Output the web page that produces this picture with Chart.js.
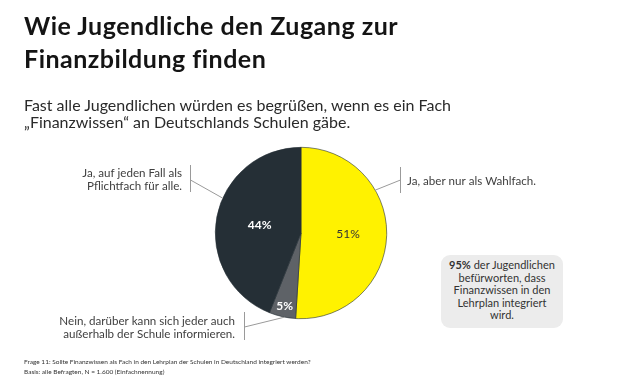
<!DOCTYPE html>
<html lang="de">
<head>
<meta charset="utf-8">
<script src="https://cdn.jsdelivr.net/npm/chart.js@4/dist/chart.umd.min.js"></script>
<style>
  html, body { margin: 0; padding: 0; background: #fff; }
  body { width: 621px; height: 383px; position: relative; overflow: hidden; font-family: Lato, "Open Sans", sans-serif; color: #1e1e1e; }
  #chartWrap { position: absolute; left: 0; top: 0; width: 621px; height: 383px; }
  h1 { position: absolute; left: 24px; top: 9px; margin: 0; font-size: 25px; line-height: 33px; font-weight: 700; letter-spacing: 0.5px; color: #141414; }
  .sub { position: absolute; left: 24px; top: 96px; margin: 0; font-size: 16px; line-height: 17px; color: #2a2a2a; }
  .box { position: absolute; left: 441px; top: 255px; width: 122px; height: 73px; background: #ececec; border-radius: 9px;
         font-size: 11px; line-height: 12.6px; text-align: center; color: #333; padding-top: 4px; box-sizing: border-box; }
  .foot { position: absolute; left: 24px; top: 357px; font-size: 6.5px; line-height: 10px; color: #333; }
</style>
</head>
<body>
<div id="chartWrap"><canvas id="pie"></canvas></div>
<h1>Wie Jugendliche den Zugang zur<br>Finanzbildung finden</h1>
<p class="sub">Fast alle Jugendlichen würden es begrüßen, wenn es ein Fach<br>„Finanzwissen“ an Deutschlands Schulen gäbe.</p>
<div class="box"><b>95%</b> der Jugendlichen<br>befürworten, dass<br>Finanzwissen in den<br>Lehrplan integriert<br>wird.</div>
<div class="foot">Frage 11: Sollte Finanzwissen als Fach in den Lehrplan der Schulen in Deutschland integriert werden?<br>Basis: alle Befragten, N = 1.600 (Einfachnennung)</div>
<script>
// Daten
const categories = [
  "Ja, aber nur als Wahlfach.",
  "Nein, darüber kann sich jeder auch außerhalb der Schule informieren.",
  "Ja, auf jeden Fall als Pflichtfach für alle."
];
const values = [51, 5, 44];
const valueLabels = ["51%", "5%", "44%"];
const calloutLines = [
  ["Ja, aber nur als Wahlfach."],
  ["Nein, darüber kann sich jeder auch", "außerhalb der Schule informieren."],
  ["Ja, auf jeden Fall als", "Pflichtfach für alle."]
];

const colors = ["#fff200", "#5e6267", "#252f36"];

// Beschriftungen + Linien direkt auf dem Canvas
const labelPlugin = {
  id: "pieLabels",
  afterDatasetsDraw(chart) {
    const ctx = chart.ctx;
    const arcs = chart.getDatasetMeta(0).data;
    const cx = arcs[0].x, cy = arcs[0].y, r = arcs[0].outerRadius;
    const pt = (deg, rr) => {
      const a = deg * Math.PI / 180;
      return [cx + rr * Math.sin(a), cy - rr * Math.cos(a)];
    };

    // Prozentwerte in den Segmenten
    const inner = [
      { f: 0.55, color: "#333", weight: "400" },
      { f: 0.87, color: "#fff", weight: "700" },
      { f: 0.49, color: "#fff", weight: "700" }
    ];
    ctx.save();
    ctx.textAlign = "center";
    ctx.textBaseline = "middle";
    arcs.forEach((arc, i) => {
      const mid = (arc.startAngle + arc.endAngle) / 2;
      const rr = r * inner[i].f;
      ctx.fillStyle = inner[i].color;
      ctx.font = inner[i].weight + " 12px Lato, sans-serif";
      ctx.fillText(valueLabels[i], cx + rr * Math.cos(mid), cy + rr * Math.sin(mid));
    });
    ctx.restore();

    // Callouts
    const callouts = [
      { angle: 60, bar: [400, 167, 193], join: 180, tx: 407, align: "left", ty: 181 },
      { angle: 191, bar: [244, 312, 340], join: 327, tx: 235, align: "right", ty: 321 },
      { angle: 294, bar: [190, 165, 192], join: 180, tx: 182, align: "right", ty: 173 }
    ];
    ctx.save();
    ctx.strokeStyle = "#9a9a9a";
    ctx.lineWidth = 1;
    ctx.fillStyle = "#404040";
    ctx.font = "11.6px Lato, sans-serif";
    ctx.textBaseline = "middle";
    callouts.forEach((c, i) => {
      const [px, py] = pt(c.angle, r);
      ctx.beginPath();
      ctx.moveTo(c.bar[0] + 0.5, c.bar[1]);
      ctx.lineTo(c.bar[0] + 0.5, c.bar[2]);
      ctx.moveTo(c.bar[0] + 0.5, c.join);
      ctx.lineTo(px, py);
      ctx.stroke();
      ctx.textAlign = c.align;
      calloutLines[i].forEach((line, j) => ctx.fillText(line, c.tx, c.ty + j * 13));
    });
    ctx.restore();
  }
};

new Chart(document.getElementById("pie"), {
  type: "pie",
  data: {
    labels: categories,
    datasets: [{
      data: values,
      backgroundColor: colors,
      borderColor: "#252f36",
      borderWidth: 0.6
    }]
  },
  options: {
    responsive: true,
    maintainAspectRatio: false,
    animation: false,
    layout: { padding: { left: 215, right: 234, top: 147, bottom: 64 } },
    plugins: {
      legend: { display: false },
      tooltip: { enabled: false }
    }
  },
  plugins: [labelPlugin]
});
</script>
</body>
</html>
